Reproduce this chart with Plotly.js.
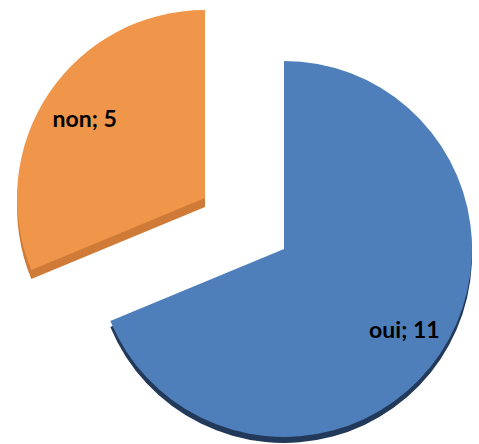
<!DOCTYPE html>
<html>
<head>
<meta charset="utf-8">
<script src="https://cdn.plot.ly/plotly-3.0.1.min.js"></script>
<style>html,body{margin:0;padding:0;background:#fff;}#chart{width:479px;height:444px;}</style>
</head>
<body>
<div id="chart"></div>
<script>
const labels = ['oui', 'non'];
const values = [11, 5];

const W = 479, H = 444, R = 188;
const faceColors = ['#4E7FBA', '#F0964B'];
const sideColors = ['#22395A', '#CF7A36'];
const none = 'rgba(0,0,0,0)';
// pixel centres of each (exploded) slice
const centres = [[284, 249], [205, 198]];
const depth = [6, 9];

function domainFor(cx, cy) {
  return {
    x: [(cx - R) / W, (cx + R) / W],
    y: [(H - cy - R) / H, (H - cy + R) / H]
  };
}

function base(k, cy, colors) {
  return {
    type: 'pie', labels: labels, values: values, sort: false,
    direction: 'clockwise', rotation: 0,
    domain: domainFor(centres[k][0], cy),
    marker: {colors: colors, line: {width: 0}},
    textinfo: 'none', hoverinfo: 'skip', showlegend: false
  };
}

const traces = [];
// side (depth) layers
labels.forEach((lab, k) => {
  traces.push(base(k, centres[k][1] + depth[k], labels.map((_, i) => i === k ? sideColors[i] : none)));
});
// top faces
labels.forEach((lab, k) => {
  traces.push(base(k, centres[k][1], labels.map((_, i) => i === k ? faceColors[i] : none)));
});
// data labels (transparent ring so the label sits out toward the rim)
labels.forEach((lab, k) => {
  const t = base(k, centres[k][1], labels.map(() => none));
  t.hole = 0.54;
  t.text = labels.map((l, i) => i === k ? l + '; ' + values[i] : '');
  t.textinfo = 'text';
  t.textposition = 'inside';
  t.insidetextorientation = 'horizontal';
  t.insidetextfont = {family: 'Lato, "Liberation Sans", sans-serif', size: 23, color: '#000', weight: 'bold'};
  traces.push(t);
});

Plotly.newPlot('chart', traces, {
  width: W, height: H,
  margin: {l: 0, r: 0, t: 0, b: 0},
  paper_bgcolor: '#fff', showlegend: false
}, {displayModeBar: false, staticPlot: true});
</script>
</body>
</html>
